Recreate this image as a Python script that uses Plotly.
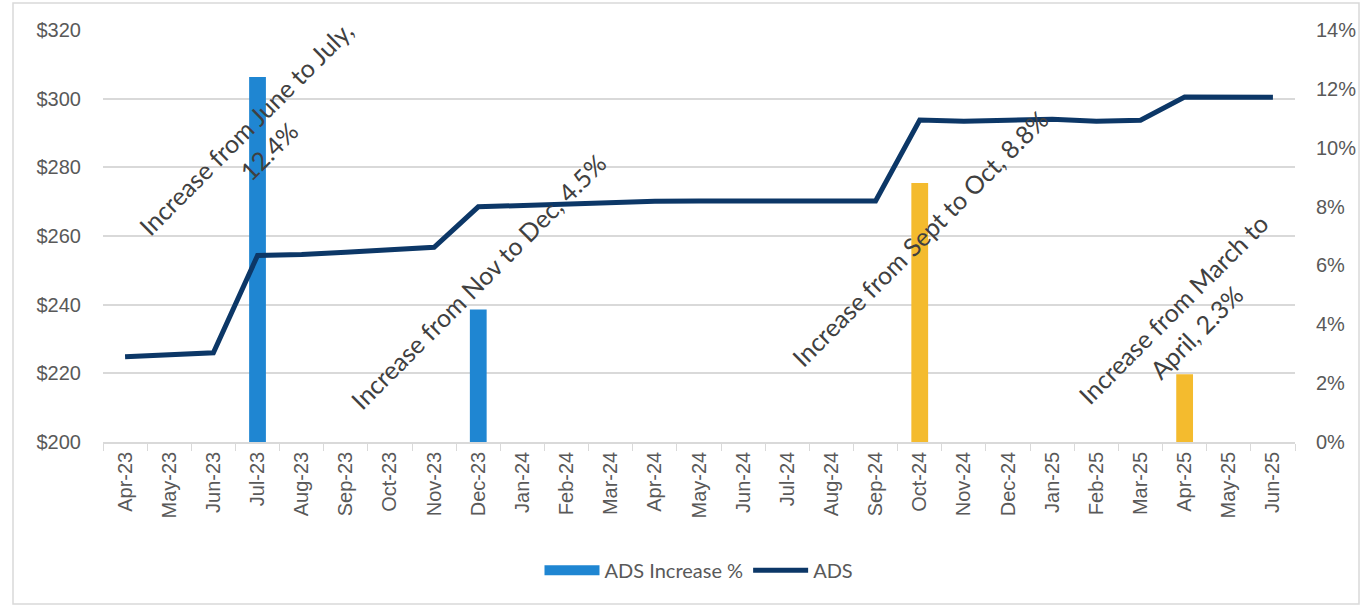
import plotly.graph_objects as go

months = ["Apr-23","May-23","Jun-23","Jul-23","Aug-23","Sep-23","Oct-23","Nov-23","Dec-23",
          "Jan-24","Feb-24","Mar-24","Apr-24","May-24","Jun-24","Jul-24","Aug-24","Sep-24",
          "Oct-24","Nov-24","Dec-24","Jan-25","Feb-25","Mar-25","Apr-25","May-25","Jun-25"]
ads = [224.8, 225.5, 226.0, 254.3, 254.6, 255.3, 256.0, 256.7, 268.5,
       268.9, 269.4, 269.8, 270.1, 270.2, 270.2, 270.2, 270.2, 270.2,
       293.8, 293.4, 293.7, 294.0, 293.4, 293.7, 300.5, 300.4, 300.4]

inc_months = ["Jul-23", "Dec-23", "Oct-24", "Apr-25"]
inc_pct = [12.4, 4.5, 8.8, 2.3]
inc_colors = ["#1f86d2", "#1f86d2", "#f4bb2e", "#f4bb2e"]

ann_text = ["Increase from June to July,<br>12.4%",
            "Increase from Nov to Dec, 4.5%",
            "Increase from Sept to Oct, 8.8%",
            "Increase from March to<br>April, 2.3%"]
ann_y = [288, 247, 259.5, 235.5]

fig = go.Figure()
fig.add_trace(go.Bar(x=inc_months, y=inc_pct, name="ADS Increase %",
                     marker=dict(color=inc_colors, line=dict(width=0)),
                     width=0.38, yaxis="y", showlegend=False, legendgroup="inc"))
# legend entry drawn as a wide bar swatch (as in the original legend)
fig.add_trace(go.Scatter(x=[None], y=[None], name="ADS Increase %", mode="lines",
                         line=dict(color="#1f86d2", width=13), yaxis="y",
                         legendgroup="inc", hoverinfo="skip"))
fig.add_trace(go.Scatter(x=months, y=ads, name="ADS", mode="lines",
                         line=dict(color="#0c3767", width=5), yaxis="y2"))

for m, t, yv in zip(inc_months, ann_text, ann_y):
    fig.add_annotation(x=m, y=yv, xref="x", yref="y2", text=t, showarrow=False,
                       textangle=-45, font=dict(family="Lato", size=25, color="#404040"))

tickfont = dict(family="Liberation Sans", size=20, color="#595959")
fig.update_layout(
    width=1361, height=607,
    margin=dict(l=103, r=66, t=30, b=165, autoexpand=False),
    paper_bgcolor="white", plot_bgcolor="white",
    xaxis=dict(categoryorder="array", categoryarray=months, type="category",
               tickangle=-90, tickfont=dict(family="Liberation Sans", size=20, color="#595959"),
               showline=True, linecolor="#d9d9d9", linewidth=1.5,
               ticks="outside", tickson="boundaries", ticklen=7, tickcolor="#d9d9d9",
               showgrid=False, range=[-0.5, 26.5], automargin=False),
    yaxis=dict(side="right", range=[0, 14], dtick=2, ticksuffix="%",
               tickfont=tickfont, showgrid=False, zeroline=False, ticklabelstandoff=20,
               automargin=False),
    yaxis2=dict(side="left", overlaying="y", range=[200, 320], dtick=20, tickprefix="$",
                tickfont=tickfont, showgrid=True, gridcolor="#d9d9d9", gridwidth=1.5,
                zeroline=False, ticklabelstandoff=21, automargin=False),
    legend=dict(orientation="h", x=0.5, xanchor="center", y=-0.311, yanchor="middle",
                font=dict(family="Lato", size=20, color="#595959"), traceorder="normal",
                itemwidth=55),
    showlegend=True,
)
fig.add_shape(type="rect", xref="paper", yref="paper",
              x0=(13 - 103) / 1192, x1=(1359 - 103) / 1192,
              y0=-(604 - 442) / 412, y1=(442 - 3) / 412,
              line=dict(color="#d9d9d9", width=1.5), fillcolor="rgba(0,0,0,0)", layer="below")

fig.write_html("out.html")
